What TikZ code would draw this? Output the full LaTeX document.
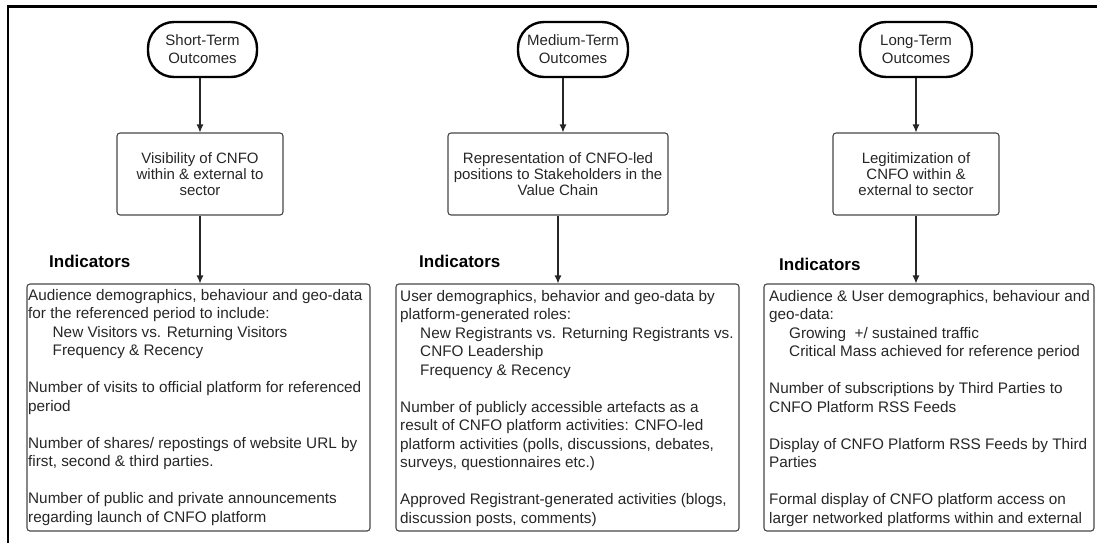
\documentclass[tikz,border=0pt]{standalone}
\usepackage{fontspec}
\setmainfont{Liberation Sans}
\usetikzlibrary{arrows.meta}
\definecolor{ink}{RGB}{38,38,38}
\definecolor{edge}{RGB}{70,70,70}
\tikzset{
  outcome/.style={draw=black, line width=2.4pt, rounded corners=26pt,
    minimum height=55pt, inner sep=0pt, align=center, text=ink,
    font=\fontsize{15}{18}\selectfont},
  goalbox/.style={draw=edge, line width=1.1pt, rounded corners=3pt,
    minimum height=82pt, inner sep=0pt, align=center, text=ink,
    font=\fontsize{15}{16.3}\selectfont},
  indbox/.style={draw=edge, line width=1.1pt, rounded corners=3pt, inner sep=0pt},
  indtext/.style={anchor=west, inner sep=0pt, align=left, text=ink,
    font=\fontsize{15.3}{18.5}\selectfont},
  indhead/.style={anchor=base west, inner sep=0pt,
    font=\fontsize{17}{20}\selectfont\bfseries},
  arr/.style={draw=ink, line width=1.1pt, -{Latex[length=8pt,width=7pt]}}
}
\newcommand{\gap}{\\[18.5pt]}
\begin{document}
\begin{tikzpicture}[x=1pt,y=-1pt]
\useasboundingbox (0,0) rectangle (1097,542);
% frame along the top and left edges
\draw[line width=2.8pt, line cap=rect] (8,542) -- (8,6.5) -- (1097,6.5);

% outcome ovals
\node[outcome, minimum width=109pt] (o1) at (202.5,49.5) {Short-Term\\Outcomes};
\node[outcome, minimum width=110pt] (o2) at (573,49.5) {Medium-Term\\Outcomes};
\node[outcome, minimum width=112pt] (o3) at (916,49.5) {Long-Term\\Outcomes};

% outcome statements
\node[goalbox, minimum width=166pt] (b1) at (200,174) {Visibility of CNFO\\within \& external to\\sector};
\node[goalbox, minimum width=220pt] (b2) at (558,174) {Representation of CNFO-led\\positions to Stakeholders in the\\Value Chain};
\node[goalbox, minimum width=166pt] (b3) at (916,174) {Legitimization of\\CNFO within \&\\external to sector};

% indicator boxes
\node[indbox, minimum width=343pt, minimum height=247pt] (i1) at (198.5,407.5) {};
\node[indbox, minimum width=343pt, minimum height=247pt] (i2) at (567.5,407.5) {};
\node[indbox, minimum width=330pt, minimum height=247pt] (i3) at (929,407.5) {};

% headings
\node[indhead] (h1) at (49,267) {Indicators};
\node[indhead] (h2) at (419,267) {Indicators};
\node[indhead] (h3) at (779,270) {Indicators};

% indicator texts
\node[indtext] (t1) at (28,407.5) {%
Audience demographics, behaviour and geo-data\\
for the referenced period to include:\\
\hspace*{24.5pt}New Visitors vs. Returning Visitors\\
\hspace*{24.5pt}Frequency \& Recency\gap
Number of visits to official platform for referenced\\
period\gap
Number of shares/ repostings of website URL by\\
first, second \& third parties.\gap
Number of public and private announcements\\
regarding launch of CNFO platform};

\node[indtext] (t2) at (400,408.5) {%
User demographics, behavior and geo-data by\\
platform-generated roles:\\
\hspace*{20pt}New Registrants vs. Returning Registrants vs.\\
\hspace*{20pt}CNFO Leadership\\
\hspace*{20pt}Frequency \& Recency\gap
Number of publicly accessible artefacts as a\\
result of CNFO platform activities: CNFO-led\\
platform activities (polls, discussions, debates,\\
surveys, questionnaires etc.)\gap
Approved Registrant-generated activities (blogs,\\
discussion posts, comments)};

\node[indtext] (t3) at (769,408.5) {%
Audience \& User demographics, behaviour and\\
geo-data:\\
\hspace*{20pt}Growing \ +/ sustained traffic\\
\hspace*{20pt}Critical Mass achieved for reference period\gap
Number of subscriptions by Third Parties to\\
CNFO Platform RSS Feeds\gap
Display of CNFO Platform RSS Feeds by Third\\
Parties\gap
Formal display of CNFO platform access on\\
larger networked platforms within and external};

% connectors
\draw[arr] (b1.north |- o1.south) -- (b1.north);
\draw[arr] ([xshift=5pt]b2.north |- o2.south) -- ([xshift=5pt]b2.north);
\draw[arr] (b3.north |- o3.south) -- (b3.north);
\draw[arr] (b1.south) -- (b1.south |- i1.north);
\draw[arr] (b2.south) -- (b2.south |- i2.north);
\draw[arr] (b3.south) -- (b3.south |- i3.north);
\end{tikzpicture}
\end{document}
